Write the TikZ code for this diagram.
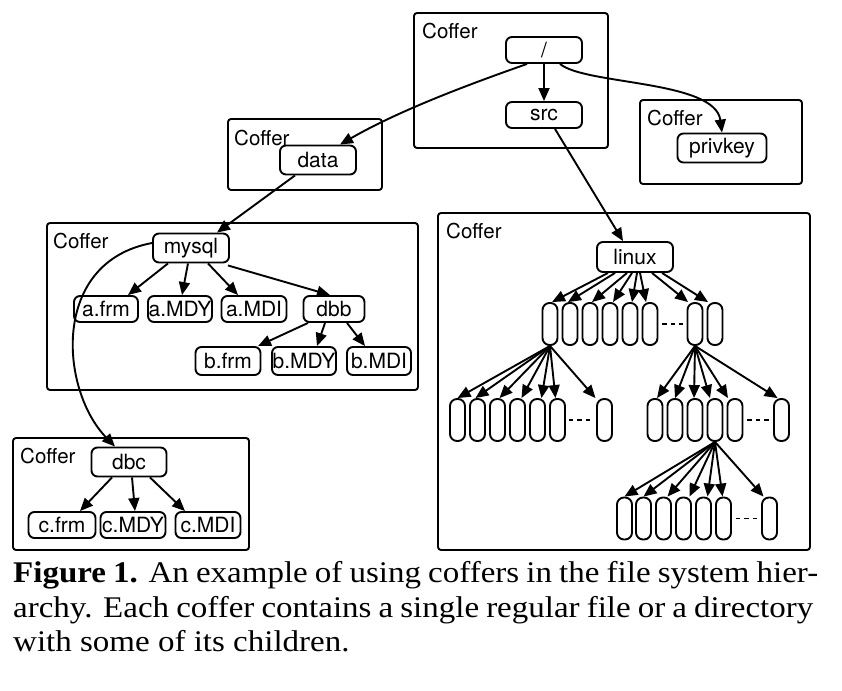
\documentclass[tikz,border=0pt]{standalone}
\usepackage{fontspec}
\usepackage{graphicx}
\newfontfamily\dfam{TeX Gyre Heros}
\newfontfamily\capfam{Liberation Serif}
\usetikzlibrary{arrows.meta}
\begin{document}
\begin{tikzpicture}[x=1pt,y=-1pt,
  lw/.style={line width=1.9pt},
  coffer/.style={draw, lw, rounded corners=3pt},
  cofferlbl/.style={anchor=base west, inner sep=0pt, font=\dfam\fontsize{20.5pt}{24pt}\selectfont},
  fnode/.style={draw, lw, rounded corners=6pt, inner sep=0pt, font=\dfam\fontsize{21pt}{25pt}\selectfont, minimum height=27pt},
  oval/.style={draw, lw, rounded corners=7pt, minimum width=15pt, minimum height=42pt, inner sep=0pt},
  arr/.style={lw, -{Triangle[length=13pt,width=11pt]}},
  dots/.style={lw, dash pattern=on 4.5pt off 4pt, shorten <=4pt, shorten >=4pt},
  capline/.style={anchor=base west, inner sep=0pt, font=\capfam\fontsize{30pt}{35pt}\selectfont}]
\useasboundingbox (0,0) rectangle (842,690);

% coffer boxes
\draw[coffer] (414,13) rectangle (608,148);
\draw[coffer] (640,100) rectangle (802,184);
\draw[coffer] (228,119) rectangle (382,190);
\draw[coffer] (47,223) rectangle (418,390);
\draw[coffer] (13,438) rectangle (249,550);
\draw[coffer] (438,213) rectangle (810,550);

\node[cofferlbl] (l1) at (422,39) {Coffer};
\node[cofferlbl] (l2) at (647,125) {Coffer};
\node[cofferlbl] (l3) at (234,145) {Coffer};
\node[cofferlbl] (l4) at (53,248) {Coffer};
\node[cofferlbl] (l5) at (20,463) {Coffer};
\node[cofferlbl] (l6) at (446,238) {Coffer};

% file nodes
\node[fnode, minimum width=76pt, minimum height=26pt] (root) at (544,50) {/};
\node[fnode, minimum width=76pt, minimum height=26pt] (src) at (544,115) {src};
\node[fnode, minimum width=89pt, minimum height=29pt] (privkey) at (722,148) {privkey};
\node[fnode, minimum width=76pt, minimum height=29pt] (data) at (318,160) {data};
\node[fnode, minimum width=76pt, minimum height=29pt] (mysql) at (191,248) {mysql};
\node[fnode, minimum width=64pt, minimum height=26pt] (afrm) at (106,309) {a.frm};
\node[fnode, minimum width=64pt, minimum height=26pt] (amdy) at (180,309) {a.MDY};
\node[fnode, minimum width=65pt, minimum height=26pt] (amdi) at (254,309) {a.MDI};
\node[fnode, minimum width=61pt, minimum height=26pt] (dbb) at (334,309) {dbb};
\node[fnode, minimum width=65pt, minimum height=28pt] (bfrm) at (228,361) {b.frm};
\node[fnode, minimum width=64pt, minimum height=28pt] (bmdy) at (304,361) {b.MDY};
\node[fnode, minimum width=64pt, minimum height=28pt] (bmdi) at (379,361) {b.MDI};
\node[fnode, minimum width=75pt, minimum height=29pt] (dbc) at (129,462) {dbc};
\node[fnode, minimum width=67pt, minimum height=26pt] (cfrm) at (62,525) {c.frm};
\node[fnode, minimum width=65pt, minimum height=26pt] (cmdy) at (133,525) {c.MDY};
\node[fnode, minimum width=65pt, minimum height=26pt] (cmdi) at (208,525) {c.MDI};
\node[fnode, minimum width=76pt, minimum height=30pt] (linux) at (635,257) {linux};

% ovals
\foreach \n/\x in {1/550,2/570,3/590,4/610,5/630,6/650,7/695,8/715}
  \node[oval] (a\n) at (\x,324) {};
\foreach \n/\x in {1/457.5,2/477.5,3/497.5,4/517.5,5/537.5,6/557.5,7/604.5}
  \node[oval] (b\n) at (\x,420) {};
\foreach \n/\x in {1/655,2/675,3/695,4/715,5/735,6/781.5}
  \node[oval] (c\n) at (\x,420) {};
\foreach \n/\x in {1/624.5,2/643.5,3/663.5,4/683.5,5/703.5,6/723.5,7/769.5}
  \node[oval] (d\n) at (\x,518.5) {};

\draw[dots] (a6) -- (a7);
\draw[dots, shorten <=3pt] (b6) -- (b7);
\draw[dots] (c5) -- (c6);
\draw[dots] (d6) -- (d7);

% connectors
\draw[arr] (root) -- (src);
\draw[arr] ([xshift=-17pt]root.south) .. controls (470,84) and (400,110) .. ([xshift=22pt]data.north);
\draw[arr] ([xshift=16pt]root.south) .. controls (585,85) and (715,80) .. (privkey.north);
\draw[arr] ([xshift=11pt]src.south) -- ([xshift=-12pt]linux.north);
\draw[arr] ([xshift=-23pt]data.south) -- ([xshift=26pt]mysql.north);

\draw[arr] ([xshift=-23pt]mysql.south) -- ([xshift=22pt]afrm.north);
\draw[arr] ([xshift=-3pt]mysql.south) -- ([xshift=2pt]amdy.north);
\draw[arr] ([xshift=17pt]mysql.south) -- ([xshift=-16pt]amdi.north);
\draw[arr] ([xshift=-2pt,yshift=-2pt]mysql.south east) -- ([xshift=-4pt]dbb.north);

\draw[arr] ([xshift=-26pt]dbb.south) -- ([xshift=30pt]bfrm.north);
\draw[arr] ([xshift=-9pt]dbb.south) -- ([xshift=13pt]bmdy.north);
\draw[arr] ([xshift=13pt]dbb.south) -- ([xshift=-14pt]bmdi.north);

\draw[arr] ([yshift=5pt]mysql.west) .. controls (50,262) and (60,390) .. ([xshift=-14pt]dbc.north);

\draw[arr] ([xshift=-17pt]dbc.south) -- ([xshift=18pt]cfrm.north);
\draw[arr] ([xshift=3pt]dbc.south) -- ([xshift=2pt]cmdy.north);
\draw[arr] ([xshift=21pt]dbc.south) -- ([xshift=-23pt]cmdi.north);

\foreach \n/\s/\e in {1/-27/2,2/-20/-2,3/-8/2,4/-3/3,5/2/2,6/5/-4,7/17/-7,8/27/-7}
  \draw[arr] ([xshift=\s pt]linux.south) -- ([xshift=\e pt]a\n.north);
\foreach \n/\e in {1/0,2/-2,3/2,4/4,5/4,6/-2,7/-9}
  \draw[arr] (a1.south) -- ([xshift=\e pt]b\n.north);
\foreach \n/\e in {1/2,2/0,3/-1,4/-5,5/-7,6/-4}
  \draw[arr] (a7.south) -- ([xshift=\e pt]c\n.north);
\foreach \n/\e in {1/0,2/0,3/4,4/6,5/4,6/-1,7/-6}
  \draw[arr] (c4.south) -- ([xshift=\e pt]d\n.north);

% caption
\node[capline] (cap1) at (13,582) {\scalebox{1.1}[1]{\makebox[731.8pt][s]{\textbf{Figure 1.} An example of using coffers in the file system hier-}}};
\node[capline] (cap2) at (13,617) {\scalebox{1.1}[1]{\makebox[727.3pt][s]{archy. Each coffer contains a single regular file or a directory}}};
\node[capline] (cap3) at (13,651) {\scalebox{1.1}[1]{with some of its children.}};
\end{tikzpicture}
\end{document}
